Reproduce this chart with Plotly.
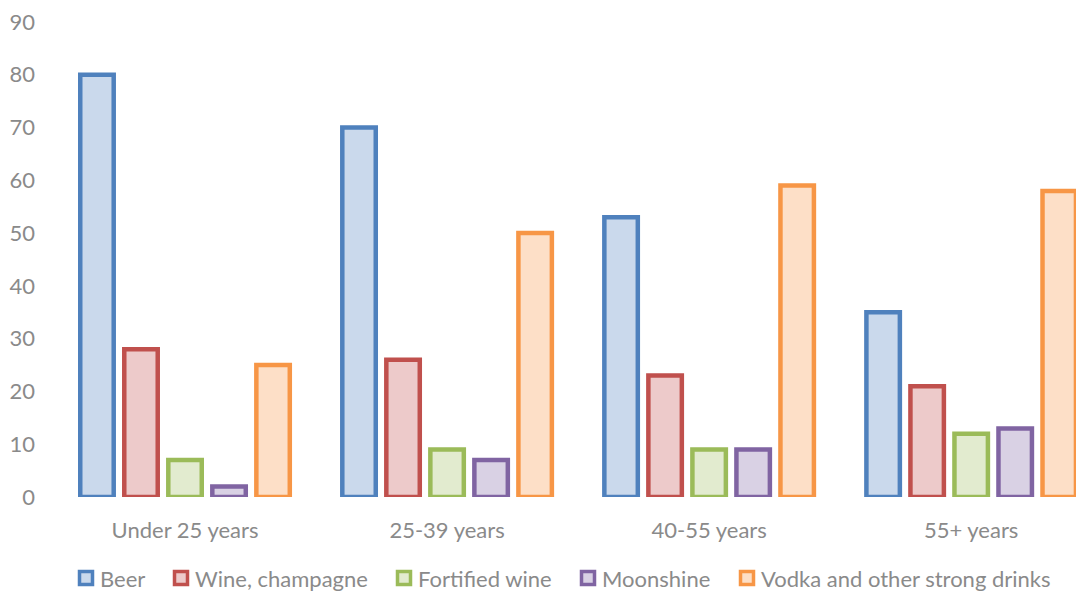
import plotly.graph_objects as go

categories = ["Under 25 years", "25-39 years", "40-55 years", "55+ years"]
series_names = ["Beer", "Wine, champagne", "Fortified wine", "Moonshine", "Vodka and other strong drinks"]
beer = [80, 70, 53, 35]
wine = [28, 26, 23, 21]
fortified = [7, 9, 9, 12]
moonshine = [2, 7, 9, 13]
vodka = [25, 50, 59, 58]
y_ticks = [0, 10, 20, 30, 40, 50, 60, 70, 80, 90]

values = [beer, wine, fortified, moonshine, vodka]
line_colors = ["#4F81BD", "#C0504D", "#9BBB59", "#8064A2", "#F79646"]
fill_colors = ["#CAD9EC", "#EDCACA", "#E2EBCF", "#D9D1E4", "#FDDFC7"]

W, H = 1076, 592
ML, MR, MT, MB = 54, 0, 22, 95
PW, PH = W - ML - MR, H - MT - MB

fig = go.Figure()
for name, vals, lc, fc in zip(series_names, values, line_colors, fill_colors):
    fig.add_trace(go.Bar(
        name=name, x=categories, y=vals,
        marker=dict(color=fc, line=dict(color=lc, width=4.5)),
        showlegend=False,
    ))

font_color = "#8A8A8A"
font_family = "Lato, Carlito, sans-serif"

# Manual legend (positions in pixels converted to paper coordinates)
legend_square_left = [78, 173, 396, 580, 739]
sq = 16
legend_cy = 578
shapes, annotations = [], []
def px_x(px):
    return (px - ML) / PW
def px_y(py):
    return (H - MB - py) / PH
for name, lc, fc, x0 in zip(series_names, line_colors, fill_colors, legend_square_left):
    shapes.append(dict(type="rect", xref="paper", yref="paper",
                       x0=px_x(x0 + 1.5), x1=px_x(x0 + sq - 1.5),
                       y0=px_y(legend_cy + sq / 2 - 1.5), y1=px_y(legend_cy - sq / 2 + 1.5),
                       line=dict(color=lc, width=3.5), fillcolor=fc))
    annotations.append(dict(text=name, xref="paper", yref="paper",
                            x=px_x(x0 + sq + 4), y=px_y(legend_cy), xanchor="left",
                            yanchor="middle", showarrow=False,
                            font=dict(family=font_family, size=22, color=font_color)))

fig.update_layout(
    width=W, height=H,
    margin=dict(l=ML, r=MR, t=MT, b=MB),
    paper_bgcolor="white", plot_bgcolor="white",
    barmode="group", bargap=0.16, bargroupgap=0.24,
    font=dict(family=font_family, size=22, color=font_color),
    xaxis=dict(range=[-0.5, 3.4], showgrid=False, showline=False, zeroline=False,
               ticks="", ticklabelstandoff=18, tickfont=dict(size=22, color=font_color)),
    yaxis=dict(range=[0, 90], tickvals=y_ticks, showgrid=False, showline=False,
               zeroline=False, ticks="", ticklabelstandoff=18,
               tickfont=dict(size=22, color=font_color)),
    showlegend=False,
    shapes=shapes,
    annotations=annotations,
)

fig.write_html("out.html")
